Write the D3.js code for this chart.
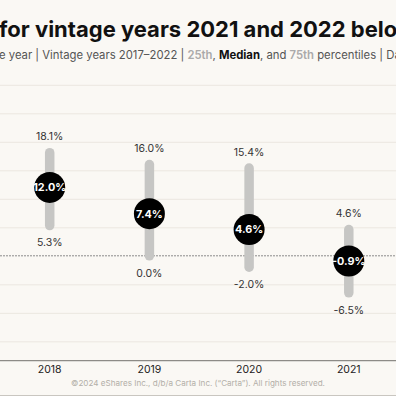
<!DOCTYPE html>
<html>
<head>
<meta charset="utf-8">
<script src="https://cdn.jsdelivr.net/npm/d3@7"></script>
<style>
  html, body { margin: 0; padding: 0; background: #faf8f4; overflow: hidden; }
  svg { display: block; font-family: "Inter", "Lato", sans-serif; }
</style>
</head>
<body>
<div id="chart"></div>
<script>
// vintage years on the x axis (2017 and 2022 fall outside this crop)
let years = ["2017","2018","2019","2020","2021","2022"];

// percentiles, in %
let shownYears = ["2018","2019","2020","2021"];
let p25 = [5.3, 0.0, -2.0, -6.5];
let median = [12.0, 7.4, 4.6, -0.9];
let p75 = [18.1, 16.0, 15.4, 4.6];

let gridTicks = [30, 25, 20, 15, 10, 5, -5, -10, -15];

let width = 396, height = 396;

let svg = d3.select("#chart").append("svg")
    .attr("width", width)
    .attr("height", height);

svg.append("rect")
    .attr("width", width)
    .attr("height", height)
    .attr("fill", "#faf8f4");

let x = d3.scalePoint()
    .domain(years)
    .range([-50, 448.5]);

let y = d3.scaleLinear()
    .domain([-18.4, 30])
    .range([360.7, 84.8]);

let fmt = v => v.toFixed(1) + "%";

// title and subtitle (cut off at both sides like the reference)
svg.append("text")
    .attr("x", -1)
    .attr("y", 37)
    .attr("font-size", 22)
    .attr("font-weight", 700)
    .attr("fill", "#111")
    .text("for vintage years 2021 and 2022 below zero");

let sub = svg.append("text")
    .attr("x", -1)
    .attr("y", 59)
    .attr("font-size", 11.3)
    .attr("fill", "#555");
sub.append("tspan").text("e year | Vintage years 2017\u20132022 | ");
sub.append("tspan").attr("fill", "#aaa").attr("font-weight", 600).text("25th");
sub.append("tspan").text(", ");
sub.append("tspan").attr("fill", "#111").attr("font-weight", 700).text("Median");
sub.append("tspan").text(", and ");
sub.append("tspan").attr("fill", "#aaa").attr("font-weight", 600).text("75th");
sub.append("tspan").text(" percentiles | Data");

// grid lines
svg.append("g").selectAll("line")
    .data(gridTicks)
    .join("line")
    .attr("x1", 0)
    .attr("x2", width)
    .attr("y1", d => y(d) + 0.5)
    .attr("y2", d => y(d) + 0.5)
    .attr("stroke", "#ebe7e0")
    .attr("stroke-width", 1);

// zero line
svg.append("line")
    .attr("x1", 0)
    .attr("x2", width)
    .attr("y1", y(0))
    .attr("y2", y(0))
    .attr("stroke", "#8a8a8a")
    .attr("stroke-width", 1)
    .attr("stroke-dasharray", "2,1");

// baseline
svg.append("line")
    .attr("x1", 0)
    .attr("x2", width)
    .attr("y1", y(-18.4))
    .attr("y2", y(-18.4))
    .attr("stroke", "#8d8b87")
    .attr("stroke-width", 1.2);

// year labels (only the ones inside the crop)
svg.append("g").selectAll("text")
    .data(shownYears)
    .join("text")
    .attr("x", d => x(d))
    .attr("y", 373)
    .attr("text-anchor", "middle")
    .attr("font-size", 10.5)
    .attr("fill", "#222")
    .text(d => d);

let rows = shownYears.map((yr, i) => ({ yr: yr, lo: p25[i], mid: median[i], hi: p75[i] }));

let g = svg.append("g").selectAll("g")
    .data(rows)
    .join("g");

// 25th-75th range bar
g.append("line")
    .attr("x1", d => x(d.yr))
    .attr("x2", d => x(d.yr))
    .attr("y1", d => y(d.hi))
    .attr("y2", d => y(d.lo))
    .attr("stroke", "#c6c6c4")
    .attr("stroke-width", 9.5)
    .attr("stroke-linecap", "round");

g.append("text")
    .attr("x", d => x(d.yr))
    .attr("y", d => y(d.hi) - 12.5)
    .attr("text-anchor", "middle")
    .attr("font-size", 10.5)
    .attr("fill", "#333")
    .text(d => fmt(d.hi));

g.append("text")
    .attr("x", d => x(d.yr))
    .attr("y", d => y(d.lo) + 20.7)
    .attr("text-anchor", "middle")
    .attr("font-size", 10.5)
    .attr("fill", "#333")
    .text(d => fmt(d.lo));

// median dot
g.append("circle")
    .attr("cx", d => x(d.yr))
    .attr("cy", d => y(d.mid))
    .attr("r", 15.5)
    .attr("fill", "#000");

g.append("text")
    .attr("x", d => x(d.yr))
    .attr("y", d => y(d.mid))
    .attr("dy", "0.36em")
    .attr("text-anchor", "middle")
    .attr("font-size", 10.8)
    .attr("font-weight", 700)
    .attr("fill", "#fff")
    .text(d => fmt(d.mid));

// footer
svg.append("text")
    .attr("x", 198)
    .attr("y", 386)
    .attr("text-anchor", "middle")
    .attr("font-size", 8.1)
    .attr("fill", "#b3afa8")
    .text("\u00a92024 eShares Inc., d/b/a Carta Inc. (\u201cCarta\u201d). All rights reserved.");

svg.append("line")
    .attr("x1", 0)
    .attr("x2", width)
    .attr("y1", 395.5)
    .attr("y2", 395.5)
    .attr("stroke", "#c9c6c0");
</script>
</body>
</html>
